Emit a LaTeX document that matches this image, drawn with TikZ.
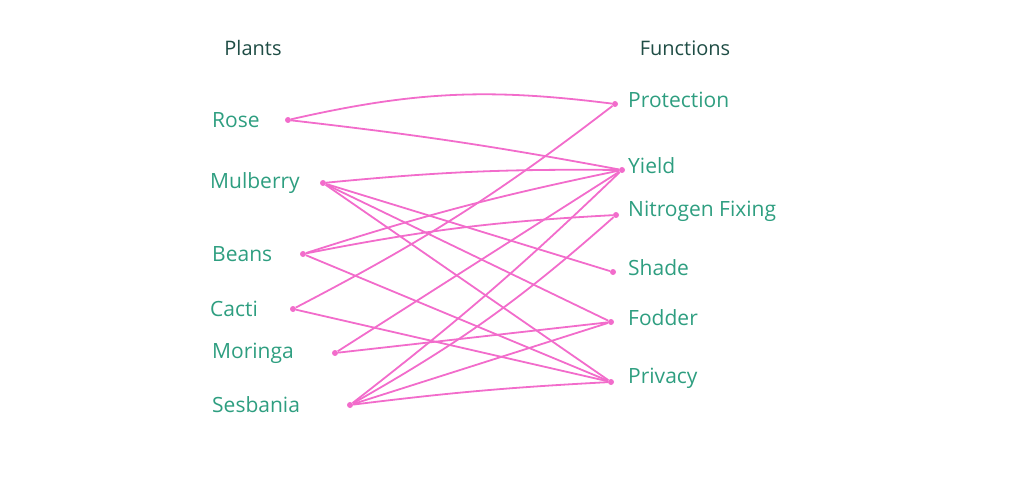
\documentclass[tikz,border=0pt]{standalone}
\usepackage{fontspec}
\setmainfont{Open Sans}
\definecolor{tl}{HTML}{2E9E80}
\definecolor{hd}{HTML}{1F4D45}
\definecolor{pk}{HTML}{F26CCB}
\begin{document}
\begin{tikzpicture}[x=1pt,y=-1pt,
  lbl/.style={text=tl, font=\fontsize{21}{23}\selectfont, anchor=west, inner sep=0},
  head/.style={text=hd, font=\fontsize{20}{22}\selectfont, inner sep=0},
  dot/.style={circle, fill=pk, inner sep=0, minimum size=6pt},
  ln/.style={draw=pk, line width=1.8pt}]
\useasboundingbox (0,0) rectangle (1024,478);
\node[head] (hp) at (253,48) {Plants};
\node[head] (hf) at (685,48) {Functions};
\foreach \n/\t/\x/\y/\lx in {rose/Rose/288/120/212, mul/Mulberry/323/183/210, bea/Beans/303/254/212, cac/Cacti/293/309/210, mor/Moringa/335/353/212, ses/Sesbania/350/405/212}{
  \node[dot] (\n) at (\x,\y) {};
  \node[lbl] (\n t) at (\lx,\y) {\t};
}
\foreach \n/\t/\x/\y in {pro/Protection/615/104, yie/Yield/622/170, nit/Nitrogen Fixing/616/215, sha/Shade/613/272, fod/Fodder/611/322, pri/Privacy/611/382}{
  \node[dot] (\n) at (\x,\y) {};
  \node[lbl] (\n t) at (628,\y-4) {\t};
}
\draw[ln] (rose) to[bend left=10] (pro);
\draw[ln] (rose) to[bend left=2] (yie);
\draw[ln] (mul) to[bend left=3] (yie);
\draw[ln] (mul) -- (sha);
\draw[ln] (mul) -- (fod);
\draw[ln] (mul) -- (pri);
\draw[ln] (bea) to[bend left=3] (yie);
\draw[ln] (bea) to[bend left=4] (nit);
\draw[ln] (bea) -- (pri);
\draw[ln] (cac) to[bend right=5] (pro);
\draw[ln] (cac) -- (pri);
\draw[ln] (mor) -- (yie);
\draw[ln] (mor) -- (fod);
\draw[ln] (ses) to[bend right=3] (yie);
\draw[ln] (ses) to[bend right=6] (nit);
\draw[ln] (ses) -- (fod);
\draw[ln] (ses) to[bend left=2] (pri);
\end{tikzpicture}
\end{document}
